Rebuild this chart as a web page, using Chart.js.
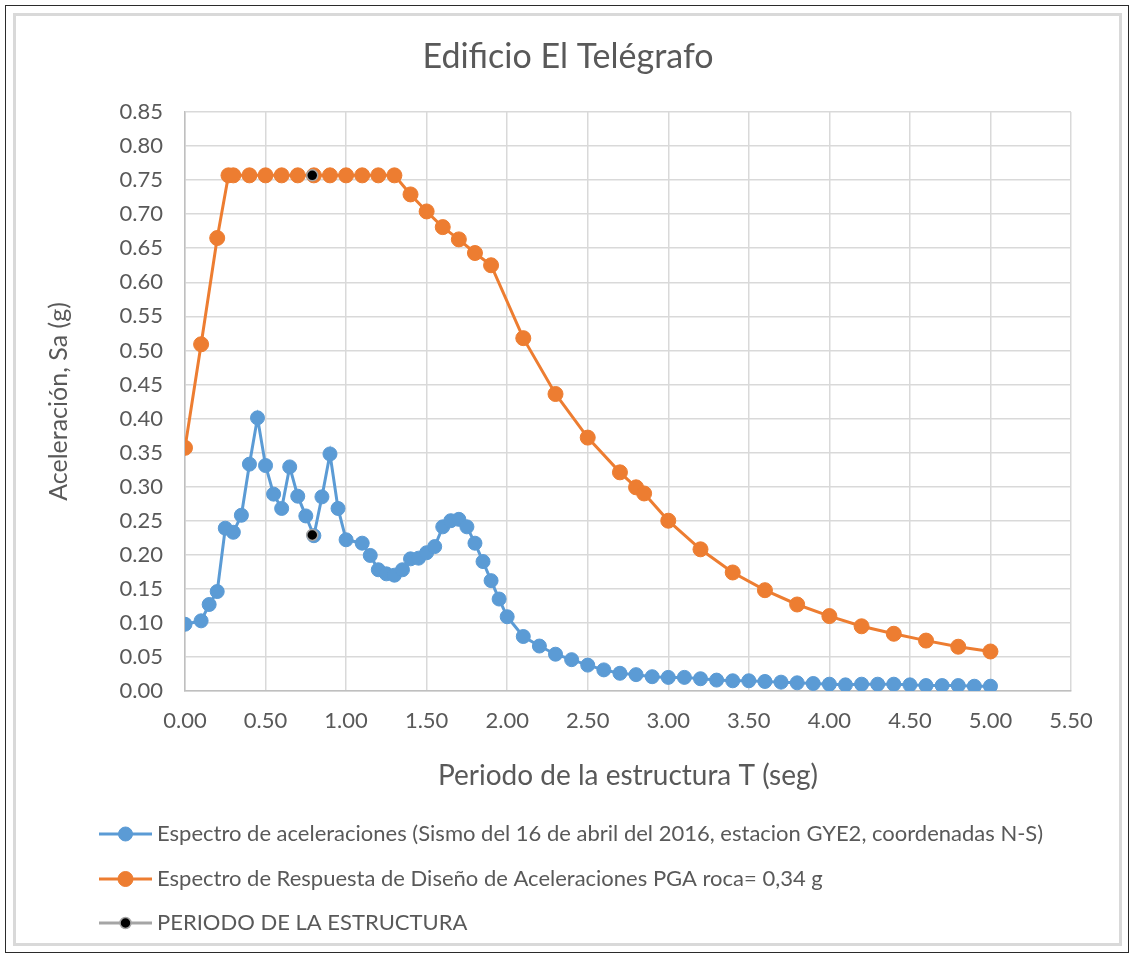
<!DOCTYPE html>
<html>
<head>
<meta charset="utf-8">
<title>Edificio El Telégrafo</title>
<script src="https://cdn.jsdelivr.net/npm/chart.js@4.4.0/dist/chart.umd.min.js"></script>
<style>
  html, body { margin: 0; padding: 0; background: #fff; }
  #wrap { width: 1134px; height: 958px; }
</style>
</head>
<body>
<div id="wrap"><canvas id="spectrumChart" width="1134" height="958"></canvas></div>
<script>
// periods (s) and accelerations (g)
const recordT = [0, 0.1, 0.15, 0.2, 0.25, 0.3, 0.35, 0.4, 0.45, 0.5, 0.55, 0.6, 0.65, 0.7, 0.75, 0.8, 0.85, 0.9, 0.95, 1.0,
  1.1, 1.15, 1.2, 1.25, 1.3, 1.35, 1.4, 1.45, 1.5, 1.55, 1.6, 1.65, 1.7, 1.75, 1.8, 1.85, 1.9, 1.95, 2.0,
  2.1, 2.2, 2.3, 2.4, 2.5, 2.6, 2.7, 2.8, 2.9, 3.0, 3.1, 3.2, 3.3, 3.4, 3.5, 3.6, 3.7, 3.8, 3.9, 4.0,
  4.1, 4.2, 4.3, 4.4, 4.5, 4.6, 4.7, 4.8, 4.9, 5.0];
const recordSa = [0.098, 0.103, 0.127, 0.146, 0.239, 0.233, 0.258, 0.333, 0.401, 0.331, 0.289, 0.268, 0.329, 0.286, 0.257, 0.228, 0.285, 0.348, 0.268, 0.222,
  0.217, 0.199, 0.178, 0.172, 0.170, 0.178, 0.194, 0.195, 0.203, 0.212, 0.241, 0.250, 0.252, 0.241, 0.217, 0.190, 0.162, 0.135, 0.109,
  0.080, 0.066, 0.054, 0.046, 0.038, 0.031, 0.026, 0.024, 0.021, 0.020, 0.020, 0.018, 0.016, 0.015, 0.015, 0.014, 0.013, 0.012, 0.011, 0.010,
  0.009, 0.010, 0.010, 0.010, 0.009, 0.008, 0.008, 0.008, 0.007, 0.007];

const designT = [0, 0.1, 0.2, 0.27, 0.3, 0.4, 0.5, 0.6, 0.7, 0.8, 0.9, 1.0, 1.1, 1.2, 1.3, 1.4, 1.5, 1.6, 1.7, 1.8, 1.9,
  2.1, 2.3, 2.5, 2.7, 2.8, 2.85, 3.0, 3.2, 3.4, 3.6, 3.8, 4.0, 4.2, 4.4, 4.6, 4.8, 5.0];
const designSa = [0.357, 0.509, 0.665, 0.757, 0.757, 0.757, 0.757, 0.757, 0.757, 0.757, 0.757, 0.757, 0.757, 0.757, 0.757, 0.729, 0.704, 0.681, 0.663, 0.643, 0.625,
  0.518, 0.436, 0.372, 0.321, 0.299, 0.290, 0.250, 0.208, 0.174, 0.148, 0.127, 0.110, 0.095, 0.084, 0.074, 0.065, 0.058];

const periodT = [0.79, 0.79];
const periodSa = [0.757, 0.229];

const seriesNames = [
  'Espectro de aceleraciones (Sismo del 16 de abril del 2016, estacion GYE2, coordenadas N-S)',
  'Espectro de Respuesta de Diseño de Aceleraciones PGA roca= 0,34 g',
  'PERIODO DE LA ESTRUCTURA'
];
const chartTitle = 'Edificio El Telégrafo';

const xMax = 5.5, xStep = 0.5;
const yMax = 0.85, yStep = 0.05;

const FONT = 'Lato, "Liberation Sans", sans-serif';
const TEXT = '#595959';

const pairs = (xs, ys) => xs.map((x, i) => ({ x: x, y: ys[i] }));

// excel-like legend: line segment with marker, one entry per row
const sideLegend = {
  id: 'sideLegend',
  afterDraw(chart) {
    const ctx = chart.ctx;
    const rows = [834, 879, 923];
    ctx.save();
    chart.data.datasets.forEach((ds, i) => {
      const y = rows[i];
      ctx.strokeStyle = ds.legendLine;
      ctx.lineWidth = 3;
      ctx.beginPath();
      ctx.moveTo(99, y);
      ctx.lineTo(152, y);
      ctx.stroke();
      ctx.beginPath();
      ctx.arc(125.5, y, ds.pointRadius, 0, Math.PI * 2);
      ctx.fillStyle = ds.pointBackgroundColor;
      ctx.fill();
      ctx.lineWidth = ds.pointBorderWidth;
      ctx.strokeStyle = ds.pointBorderColor;
      ctx.stroke();
      ctx.fillStyle = TEXT;
      ctx.font = '22px ' + FONT;
      ctx.textBaseline = 'middle';
      ctx.textAlign = 'left';
      ctx.fillText(ds.label, 157, y);
    });
    ctx.restore();
  }
};

// white background, the two chart-area frames and the title centred in the frame
const frame = {
  id: 'frame',
  beforeDraw(chart) {
    const ctx = chart.ctx;
    ctx.save();
    ctx.fillStyle = '#fff';
    ctx.fillRect(0, 0, chart.width, chart.height);
    ctx.strokeStyle = '#D9D9D9';
    ctx.lineWidth = 3;
    ctx.strokeRect(14.5, 14.5, 1106, 930);
    ctx.strokeStyle = '#2b2b2b';
    ctx.lineWidth = 1;
    ctx.strokeRect(5.5, 5.5, 1123, 947);
    ctx.fillStyle = TEXT;
    ctx.font = '34px ' + FONT;
    ctx.textAlign = 'center';
    ctx.textBaseline = 'middle';
    ctx.fillText(chartTitle, 568, 57);
    ctx.restore();
  }
};

const ctx = document.getElementById('spectrumChart').getContext('2d');
const spectrumChart = new Chart(ctx, {
  type: 'line',
  data: {
    datasets: [{
      label: seriesNames[0],
      data: pairs(recordT, recordSa),
      borderColor: '#5B9BD5',
      legendLine: '#5B9BD5',
      borderWidth: 3,
      pointRadius: 7,
      pointBackgroundColor: '#5B9BD5',
      pointBorderColor: '#5B9BD5',
      pointBorderWidth: 1,
      tension: 0,
      order: 2
    }, {
      label: seriesNames[1],
      data: pairs(designT, designSa),
      borderColor: '#ED7D31',
      legendLine: '#ED7D31',
      borderWidth: 3,
      pointRadius: 7.5,
      pointBackgroundColor: '#ED7D31',
      pointBorderColor: '#ED7D31',
      pointBorderWidth: 1,
      tension: 0,
      order: 1
    }, {
      label: seriesNames[2],
      data: pairs(periodT, periodSa),
      showLine: false,
      borderColor: '#A5A5A5',
      legendLine: '#A5A5A5',
      pointRadius: 5.5,
      pointBackgroundColor: '#000',
      pointBorderColor: '#A5A5A5',
      pointBorderWidth: 1.5,
      order: 0
    }]
  },
  options: {
    responsive: false,
    animation: false,
    layout: { padding: { top: 112, left: 20, right: 63, bottom: 165 } },
    plugins: {
      legend: { display: false },
      tooltip: { enabled: false },
      title: { display: false }
    },
    scales: {
      x: {
        type: 'linear',
        min: 0,
        max: xMax,
        afterFit: s => { s.height = 102; },
        ticks: {
          stepSize: xStep,
          color: TEXT,
          padding: 17,
          font: { family: FONT, size: 22 },
          callback: v => v.toFixed(2)
        },
        grid: { color: '#D9D9D9', lineWidth: 1.5, drawTicks: false },
        border: { color: '#BFBFBF', width: 1.5 },
        title: {
          display: true,
          text: 'Periodo de la estructura T (seg)',
          color: TEXT,
          font: { family: FONT, size: 28 },
          padding: { top: 0, bottom: 0 }
        }
      },
      y: {
        min: 0,
        max: yMax,
        afterFit: s => { s.width = 165; },
        ticks: {
          stepSize: yStep,
          color: TEXT,
          padding: 22,
          font: { family: FONT, size: 22 },
          callback: v => v.toFixed(2)
        },
        grid: { color: '#D9D9D9', lineWidth: 1.5, drawTicks: false },
        border: { color: '#BFBFBF', width: 1.5 },
        title: {
          display: true,
          text: 'Aceleración, Sa (g)',
          color: TEXT,
          font: { family: FONT, size: 25 },
          padding: { top: 24, bottom: 0 }
        }
      }
    }
  },
  plugins: [frame, sideLegend]
});
</script>
</body>
</html>
